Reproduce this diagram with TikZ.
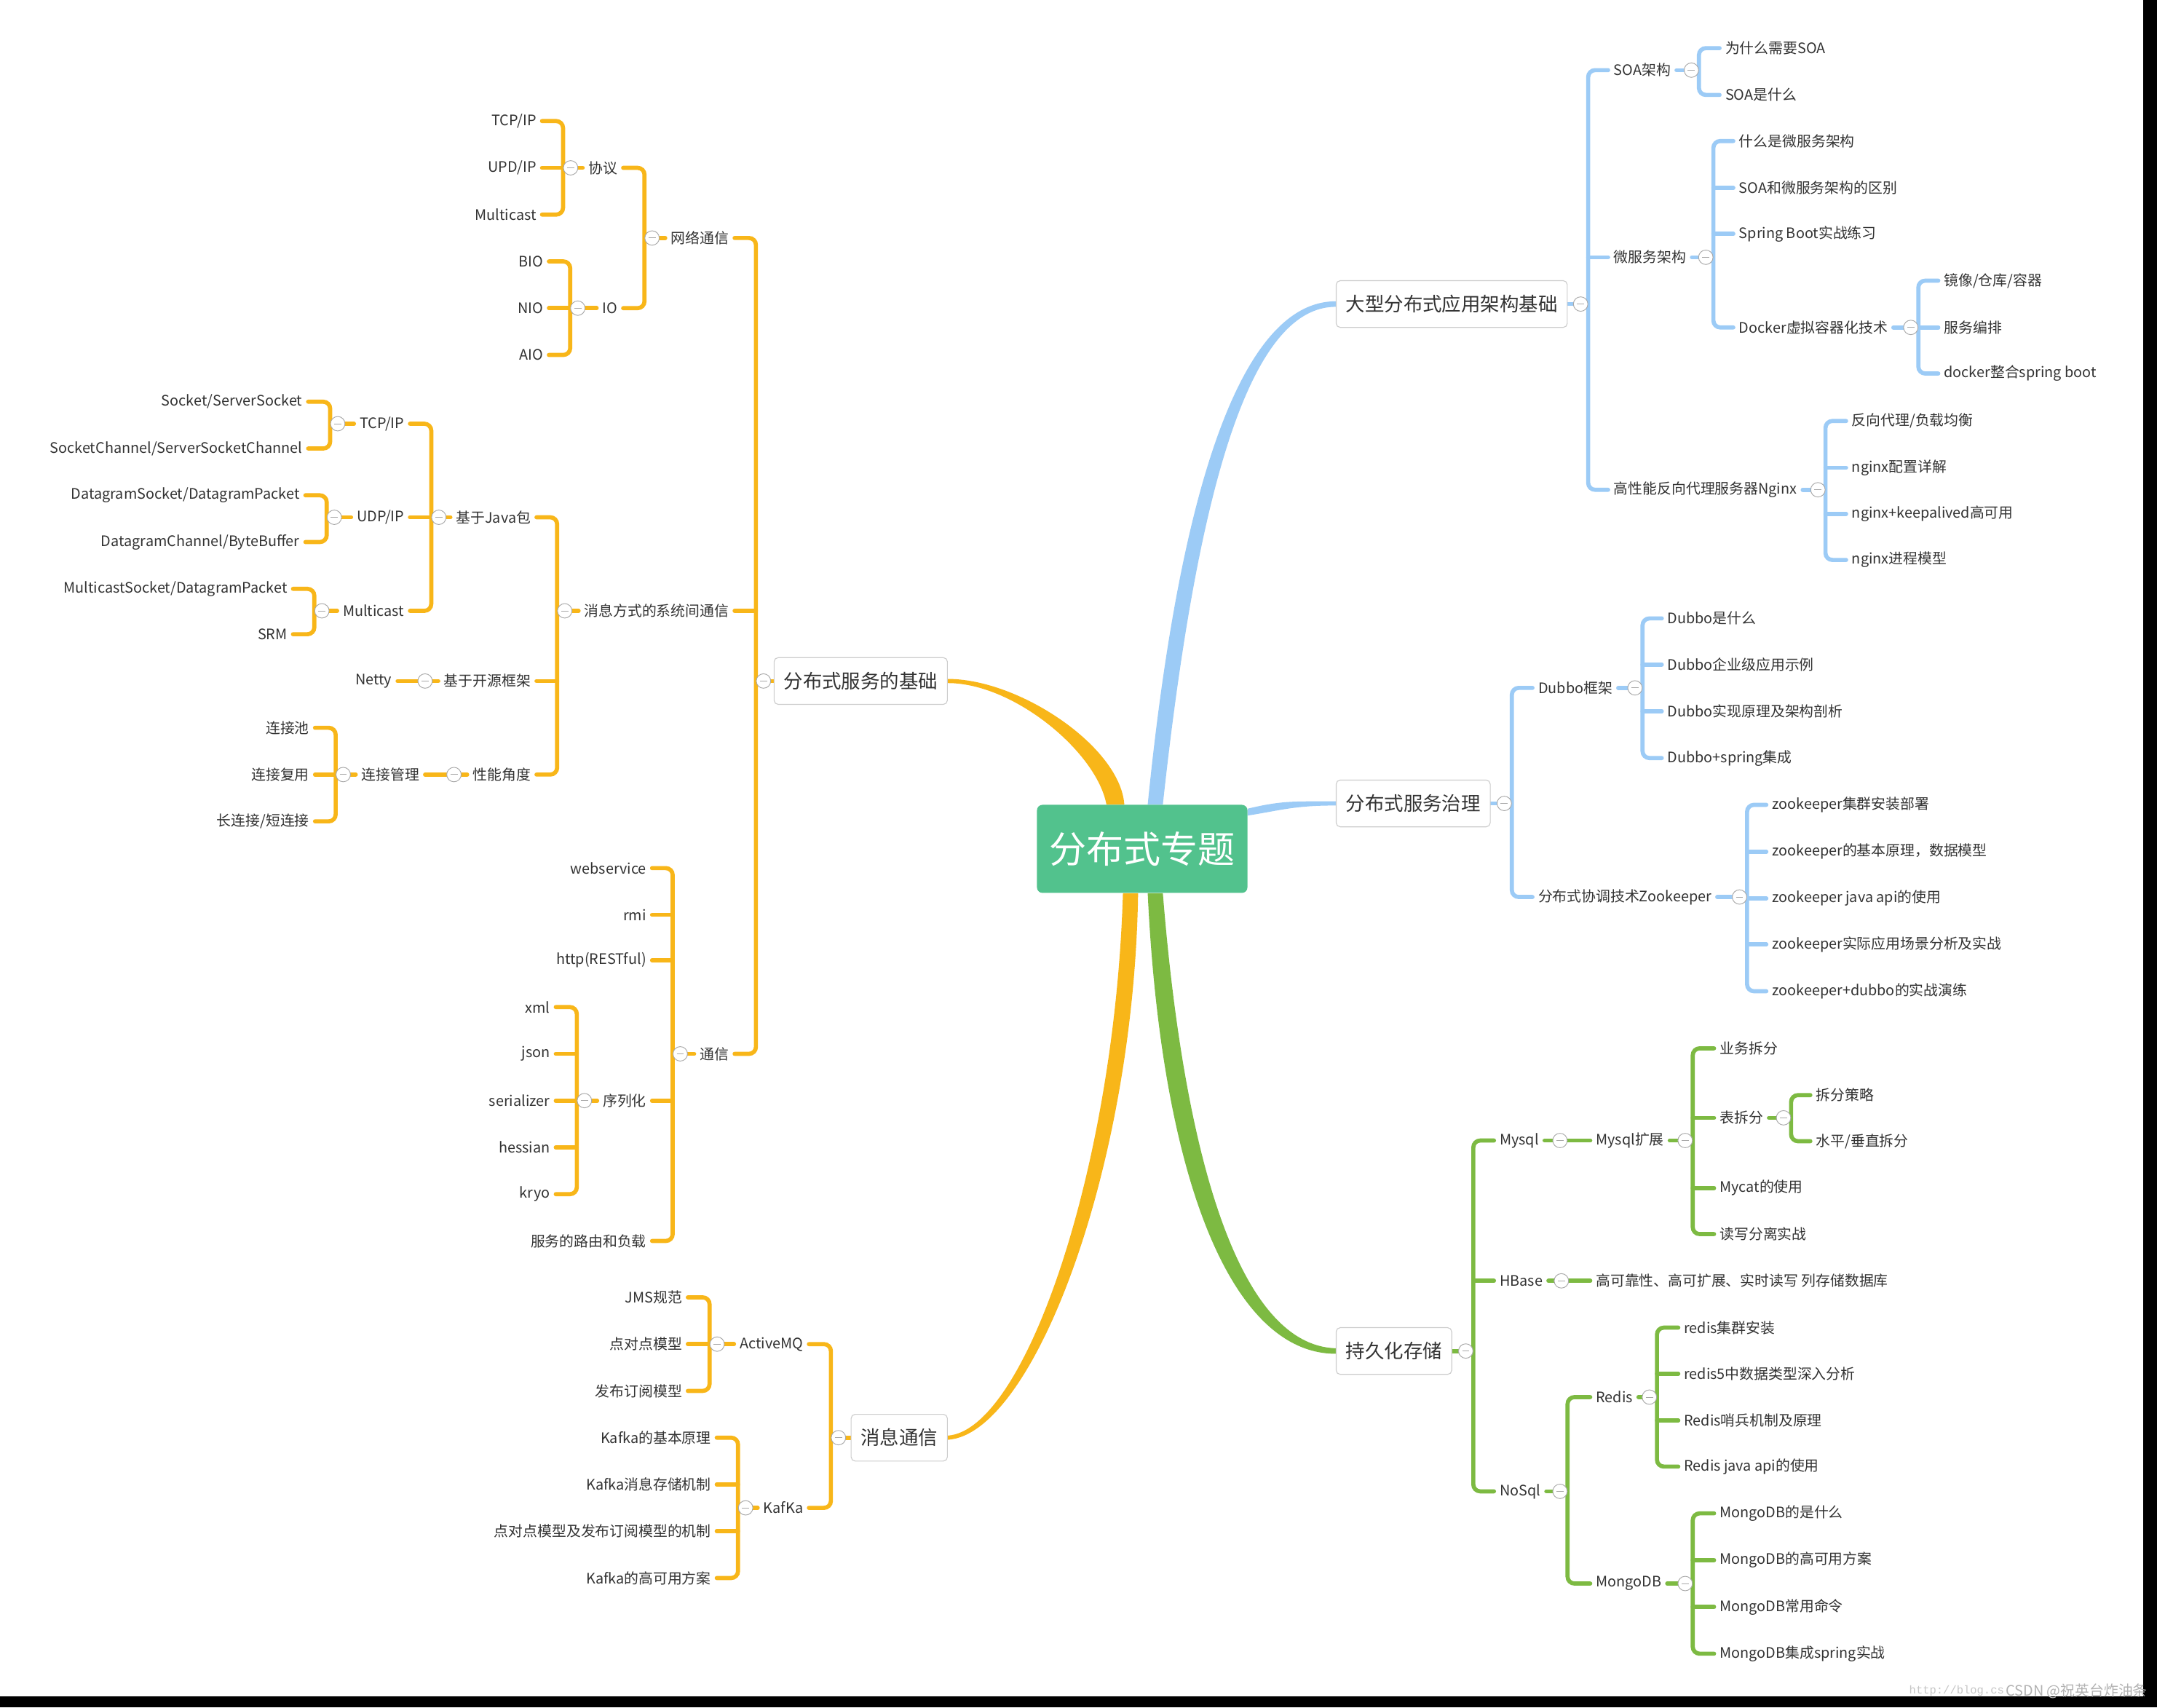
\documentclass[tikz,border=0pt]{standalone}
\usepackage{fontspec}
\setmainfont{Noto Sans CJK SC}
\newfontfamily\urlfont{Liberation Mono}
\usetikzlibrary{positioning,backgrounds}

\definecolor{orng}{HTML}{F8B619}
\definecolor{blu}{HTML}{9CCBF6}
\definecolor{grn}{HTML}{7DBA42}
\definecolor{rootgreen}{HTML}{52C28D}
\definecolor{txt}{HTML}{333333}
\definecolor{ring}{HTML}{A8A8A8}
\definecolor{boxline}{HTML}{CCCCCC}

\tikzset{
	lf/.style={font=\fontsize{10.5}{12}\selectfont, text=txt, inner xsep=4pt, inner ysep=1pt, anchor=east},
	rt/.style={lf, anchor=west},
	topic/.style={draw=boxline, line width=0.6pt, fill=white, rounded corners=3pt, font=\fontsize{14}{16}\selectfont, text=txt, minimum height=34pt, inner xsep=7pt},
	tog/.style={circle, draw=ring, fill=white, line width=0.5pt, minimum size=10.5pt, inner sep=0pt,
		path picture={\draw[ring, line width=0.5pt] ([xshift=-2.6pt]path picture bounding box.center) -- ([xshift=2.6pt]path picture bounding box.center);}},
	obr/.style={draw=orng, line width=3pt, rounded corners=5pt, line cap=round},
	bbr/.style={draw=blu, line width=3pt, rounded corners=5pt, line cap=round},
	gbr/.style={draw=grn, line width=3pt, rounded corners=5pt, line cap=round},
}

\begin{document}
\begin{tikzpicture}[x=1pt,y=-1pt]
		\useasboundingbox (0,0) rectangle (1568,1241);

		% centre and main topics
		\node[fill=rootgreen, text=white, rounded corners=4pt, minimum width=153pt, minimum height=64pt, font=\fontsize{27}{30}\selectfont] (root) at (830.3,617) {分布式专题};
		\node[topic, anchor=east] (base) at (689,495) {分布式服务的基础};
		\node[topic, anchor=east] (msg) at (689,1045) {消息通信};
		\node[topic, anchor=west] (arch) at (971,221) {大型分布式应用架构基础};
		\node[topic, anchor=west] (gov) at (971,584) {分布式服务治理};
		\node[topic, anchor=west] (store) at (971,982) {持久化存储};

		% left: 分布式服务的基础
		\node[lf] (net) at (534,173) {网络通信};
		\node[lf] (sys) at (534,444) {消息方式的系统间通信};
		\node[lf] (comm) at (534,766) {通信};

		\node[lf] (proto) at (453,122) {协议};
		\node[lf] (io) at (453,224) {IO};
		\node[lf] (tcpa) at (394,88) {TCP/IP};
		\node[lf] (upd) at (394,122) {UPD/IP};
		\node[lf] (mca) at (394,156) {Multicast};
		\node[lf] (bio) at (399,190) {BIO};
		\node[lf] (nio) at (399,224) {NIO};
		\node[lf] (aio) at (399,258) {AIO};

		\node[lf] (java) at (390,376) {基于Java包};
		\node[lf] (open) at (390,495) {基于开源框架};
		\node[lf] (perf) at (390,563) {性能角度};
		\node[lf] (tcpb) at (298,308) {TCP/IP};
		\node[lf] (udp) at (298,376) {UDP/IP};
		\node[lf] (mcb) at (298,444) {Multicast};
		\node[lf] (sock) at (224,292) {Socket/ServerSocket};
		\node[lf] (sockch) at (224,326) {SocketChannel/ServerSocketChannel};
		\node[lf] (dgs) at (222,360) {DatagramSocket/DatagramPacket};
		\node[lf] (dgc) at (222,394) {DatagramChannel/ByteBuffer};
		\node[lf] (mcs) at (213,428) {MulticastSocket/DatagramPacket};
		\node[lf] (srm) at (213,461) {SRM};
		\node[lf] (netty) at (289,495) {Netty};
		\node[lf] (conn) at (309,563) {连接管理};
		\node[lf] (pool) at (229,529) {连接池};
		\node[lf] (reuse) at (229,563) {连接复用};
		\node[lf] (keep) at (229,597) {长连接/短连接};

		\node[lf] (ws) at (474,631) {webservice};
		\node[lf] (rmi) at (474,665) {rmi};
		\node[lf] (http) at (474,698) {http(RESTful)};
		\node[lf] (ser) at (474,800) {序列化};
		\node[lf] (route) at (474,902) {服务的路由和负载};
		\node[lf] (xml) at (404,732) {xml};
		\node[lf] (json) at (404,766) {json};
		\node[lf] (serz) at (404,800) {serializer};
		\node[lf] (hes) at (404,834) {hessian};
		\node[lf] (kryo) at (404,868) {kryo};

		% left: 消息通信
		\node[lf] (amq) at (588,977) {ActiveMQ};
		\node[lf] (kafka) at (588,1096) {KafKa};
		\node[lf] (jms) at (500,943) {JMS规范};
		\node[lf] (p2p) at (500,977) {点对点模型};
		\node[lf] (pubsub) at (500,1011) {发布订阅模型};
		\node[lf] (kfa) at (521,1045) {Kafka的基本原理};
		\node[lf] (kfb) at (521,1079) {Kafka消息存储机制};
		\node[lf] (kfc) at (521,1113) {点对点模型及发布订阅模型的机制};
		\node[lf] (kfd) at (521,1147) {Kafka的高可用方案};

		% right: 大型分布式应用架构基础
		\node[rt] (soa) at (1169,51) {SOA架构};
		\node[rt] (micro) at (1169,187) {微服务架构};
		\node[rt] (ngx) at (1169,356) {高性能反向代理服务器Nginx};
		\node[rt] (why) at (1250,35) {为什么需要SOA};
		\node[rt] (what) at (1250,69) {SOA是什么};
		\node[rt] (msa) at (1260,102.5) {什么是微服务架构};
		\node[rt] (msb) at (1260,136.5) {SOA和微服务架构的区别};
		\node[rt] (msc) at (1260,170) {Spring Boot实战练习};
		\node[rt] (dock) at (1260,238) {Docker虚拟容器化技术};
		\node[rt] (img) at (1409,204) {镜像/仓库/容器};
		\node[rt] (orch) at (1409,238) {服务编排};
		\node[rt] (dsb) at (1409,271.5) {docker整合spring boot};
		\node[rt] (nxa) at (1342,306) {反向代理/负载均衡};
		\node[rt] (nxb) at (1342,340) {nginx配置详解};
		\node[rt] (nxc) at (1342,373.5) {nginx+keepalived高可用};
		\node[rt] (nxd) at (1342,407) {nginx进程模型};

		% right: 分布式服务治理
		\node[rt] (dubbo) at (1114,500) {Dubbo框架};
		\node[rt] (zoo) at (1114,652) {分布式协调技术Zookeeper};
		\node[rt] (dba) at (1208,449.5) {Dubbo是什么};
		\node[rt] (dbb) at (1208,483) {Dubbo企业级应用示例};
		\node[rt] (dbc) at (1208,517) {Dubbo实现原理及架构剖析};
		\node[rt] (dbd) at (1208,551) {Dubbo+spring集成};
		\node[rt] (zka) at (1284,585) {zookeeper集群安装部署};
		\node[rt] (zkb) at (1284,619) {zookeeper的基本原理，数据模型};
		\node[rt] (zkc) at (1284,653) {zookeeper java api的使用};
		\node[rt] (zkd) at (1284,686.5) {zookeeper实际应用场景分析及实战};
		\node[rt] (zke) at (1284,720.5) {zookeeper+dubbo的实战演练};

		% right: 持久化存储
		\node[rt] (mysql) at (1086,829) {Mysql};
		\node[rt] (hbase) at (1086,931) {HBase};
		\node[rt] (nosql) at (1086,1084) {NoSql};
		\node[rt] (mx) at (1156,829) {Mysql扩展};
		\node[rt] (bs) at (1246,762) {业务拆分};
		\node[rt] (tab) at (1246,812.5) {表拆分};
		\node[rt] (mycat) at (1246,863.5) {Mycat的使用};
		\node[rt] (rw) at (1246,897) {读写分离实战};
		\node[rt] (strat) at (1316,796) {拆分策略};
		\node[rt] (hv) at (1316,829.5) {水平/垂直拆分};
		\node[rt] (hbd) at (1156,931) {高可靠性、高可扩展、实时读写 列存储数据库};
		\node[rt] (redis) at (1156,1015.5) {Redis};
		\node[rt] (mongo) at (1156,1151) {MongoDB};
		\node[rt] (rda) at (1220,965) {redis集群安装};
		\node[rt] (rdb) at (1220,998.5) {redis5中数据类型深入分析};
		\node[rt] (rdc) at (1220,1032.5) {Redis哨兵机制及原理};
		\node[rt] (rdd) at (1220,1066) {Redis java api的使用};
		\node[rt] (mga) at (1246,1100) {MongoDB的是什么};
		\node[rt] (mgb) at (1246,1134) {MongoDB的高可用方案};
		\node[rt] (mgc) at (1246,1168) {MongoDB常用命令};
		\node[rt] (mgd) at (1246,1202) {MongoDB集成spring实战};

		% collapse toggles
		\node[tog] (tbase) at (555,495) {};
		\node[tog] (tnet) at (474,173) {};
		\node[tog] (tproto) at (414.8,122) {};
		\node[tog] (tio) at (420,224) {};
		\node[tog] (tsys) at (410.5,444) {};
		\node[tog] (tjava) at (319,376) {};
		\node[tog] (ttcp) at (245.5,308) {};
		\node[tog] (tudp) at (243,376) {};
		\node[tog] (tmc) at (234,444) {};
		\node[tog] (topen) at (309,495) {};
		\node[tog] (tperf) at (330,563) {};
		\node[tog] (tconn) at (249.5,563) {};
		\node[tog] (tcomm) at (494.5,766) {};
		\node[tog] (tser) at (424.8,800) {};
		\node[tog] (tmsg) at (609.5,1045) {};
		\node[tog] (tamq) at (521.3,977) {};
		\node[tog] (tkafka) at (542,1096) {};
		\node[tog] (tarch) at (1149,221) {};
		\node[tog] (tsoa) at (1229.5,51) {};
		\node[tog] (tmicro) at (1240,187) {};
		\node[tog] (tdock) at (1389,238) {};
		\node[tog] (tngx) at (1321.5,356) {};
		\node[tog] (tgov) at (1093.5,584) {};
		\node[tog] (tdub) at (1188.5,500) {};
		\node[tog] (tzoo) at (1264.5,652) {};
		\node[tog] (tstore) at (1065.5,982) {};
		\node[tog] (tmysql) at (1134,829) {};
		\node[tog] (tmx) at (1225,829) {};
		\node[tog] (ttab) at (1296.5,812.5) {};
		\node[tog] (thb) at (1135,931) {};
		\node[tog] (tnosql) at (1134,1084) {};
		\node[tog] (tredis) at (1199,1015.5) {};
		\node[tog] (tmongo) at (1225,1151) {};

		% watermark
		\node[font=\urlfont\fontsize{8.2}{10}\selectfont, text=gray!45, inner sep=0pt, anchor=east] (wmurl) at (1457,1229) {http://blog.cs};
		\node[font=\fontsize{10.5}{12}\selectfont, text=gray!60, inner sep=0pt, anchor=west] (wmname) at (1458,1229) {CSDN @祝英台炸油条};

		\begin{scope}[on background layer]
		\fill[white] (0,0) rectangle (1568,1241);
		\fill[black] (0,1233) rectangle (1568,1241);
		\fill[black] (1558,0) rectangle (1568,1241);

		% main branches
		\fill[blu] ([xshift=4pt]root.north) .. controls +(24,-240) and +(-66,0) .. ([yshift=2pt]arch.west) -- ([yshift=-2pt]arch.west) .. controls +(-60,0) and +(26,-240) .. ([xshift=15pt]root.north) -- cycle;
		\fill[blu] ([yshift=-3pt]root.north east) .. controls +(25,-6) and +(-30,0) .. ([yshift=1.5pt]gov.west) -- ([yshift=-1.5pt]gov.west) .. controls +(-30,0) and +(25,-4) .. ([yshift=-8pt]root.north east) -- cycle;
		\fill[orng] ([yshift=1.5pt]base.east) .. controls +(52,0) and +(-3,-42) .. ([xshift=-13pt]root.north) -- ([xshift=-26pt]root.north) .. controls +(-7,-38) and +(48,0) .. ([yshift=-1.5pt]base.east) -- cycle;
		\fill[orng] ([xshift=-3pt]root.south) .. controls +(-3,200) and +(62,-4) .. ([yshift=-1.5pt]msg.east) -- ([yshift=1.5pt]msg.east) .. controls +(56,-4) and +(-6,200) .. ([xshift=-14pt]root.south) -- cycle;
		\fill[grn] ([xshift=4pt]root.south) .. controls +(10,210) and +(-75,0) .. ([yshift=-2pt]store.west) -- ([yshift=2pt]store.west) .. controls +(-68,-2) and +(16,200) .. ([xshift=15pt]root.south) -- cycle;

		% 分布式服务的基础
		\draw[obr] (base.west) -- (tbase.east);
		\draw[obr] (net.east) -| (tbase.west) |- (comm.east);
		\draw[obr] (sys.east) -- (sys.east -| tbase.west);

		\draw[obr] (net.west) -- (tnet.east);
		\draw[obr] (proto.east) -| (tnet.west) |- (io.east);
		\draw[obr] (proto.west) -- (tproto.east);
		\draw[obr] (tcpa.east) -| (tproto.west) |- (mca.east);
		\draw[obr] (upd.east) -- (upd.east -| tproto.west);
		\draw[obr] (io.west) -- (tio.east);
		\draw[obr] (bio.east) -| (tio.west) |- (aio.east);
		\draw[obr] (nio.east) -- (nio.east -| tio.west);

		\draw[obr] (sys.west) -- (tsys.east);
		\draw[obr] (java.east) -| (tsys.west) |- (perf.east);
		\draw[obr] (open.east) -- (open.east -| tsys.west);
		\draw[obr] (java.west) -- (tjava.east);
		\draw[obr] (tcpb.east) -| (tjava.west) |- (mcb.east);
		\draw[obr] (udp.east) -- (udp.east -| tjava.west);
		\draw[obr] (tcpb.west) -- (ttcp.east);
		\draw[obr] (sock.east) -| (ttcp.west) |- (sockch.east);
		\draw[obr] (udp.west) -- (tudp.east);
		\draw[obr] (dgs.east) -| (tudp.west) |- (dgc.east);
		\draw[obr] (mcb.west) -- (tmc.east);
		\draw[obr] (mcs.east) -| (tmc.west) |- (srm.east);
		\draw[obr] (open.west) -- (topen.east);
		\draw[obr] (netty.east) -- (topen.west);
		\draw[obr] (perf.west) -- (tperf.east);
		\draw[obr] (conn.east) -- (tperf.west);
		\draw[obr] (conn.west) -- (tconn.east);
		\draw[obr] (pool.east) -| (tconn.west) |- (keep.east);
		\draw[obr] (reuse.east) -- (reuse.east -| tconn.west);

		\draw[obr] (comm.west) -- (tcomm.east);
		\draw[obr] (ws.east) -| (tcomm.west) |- (route.east);
		\draw[obr] (rmi.east) -- (rmi.east -| tcomm.west);
		\draw[obr] (http.east) -- (http.east -| tcomm.west);
		\draw[obr] (ser.east) -- (ser.east -| tcomm.west);
		\draw[obr] (ser.west) -- (tser.east);
		\draw[obr] (xml.east) -| (tser.west) |- (kryo.east);
		\draw[obr] (json.east) -- (json.east -| tser.west);
		\draw[obr] (serz.east) -- (serz.east -| tser.west);
		\draw[obr] (hes.east) -- (hes.east -| tser.west);

		% 消息通信
		\draw[obr] (msg.west) -- (tmsg.east);
		\draw[obr] (amq.east) -| (tmsg.west) |- (kafka.east);
		\draw[obr] (amq.west) -- (tamq.east);
		\draw[obr] (jms.east) -| (tamq.west) |- (pubsub.east);
		\draw[obr] (p2p.east) -- (p2p.east -| tamq.west);
		\draw[obr] (kafka.west) -- (tkafka.east);
		\draw[obr] (kfa.east) -| (tkafka.west) |- (kfd.east);
		\draw[obr] (kfb.east) -- (kfb.east -| tkafka.west);
		\draw[obr] (kfc.east) -- (kfc.east -| tkafka.west);

		% 大型分布式应用架构基础
		\draw[bbr] (arch.east) -- (tarch.west);
		\draw[bbr] (soa.west) -| (tarch.east) |- (ngx.west);
		\draw[bbr] (micro.west) -- (micro.west -| tarch.east);
		\draw[bbr] (soa.east) -- (tsoa.west);
		\draw[bbr] (why.west) -| (tsoa.east) |- (what.west);
		\draw[bbr] (micro.east) -- (tmicro.west);
		\draw[bbr] (msa.west) -| (tmicro.east) |- (dock.west);
		\draw[bbr] (msb.west) -- (msb.west -| tmicro.east);
		\draw[bbr] (msc.west) -- (msc.west -| tmicro.east);
		\draw[bbr] (dock.east) -- (tdock.west);
		\draw[bbr] (img.west) -| (tdock.east) |- (dsb.west);
		\draw[bbr] (orch.west) -- (orch.west -| tdock.east);
		\draw[bbr] (ngx.east) -- (tngx.west);
		\draw[bbr] (nxa.west) -| (tngx.east) |- (nxd.west);
		\draw[bbr] (nxb.west) -- (nxb.west -| tngx.east);
		\draw[bbr] (nxc.west) -- (nxc.west -| tngx.east);

		% 分布式服务治理
		\draw[bbr] (gov.east) -- (tgov.west);
		\draw[bbr] (dubbo.west) -| (tgov.east) |- (zoo.west);
		\draw[bbr] (dubbo.east) -- (tdub.west);
		\draw[bbr] (dba.west) -| (tdub.east) |- (dbd.west);
		\draw[bbr] (dbb.west) -- (dbb.west -| tdub.east);
		\draw[bbr] (dbc.west) -- (dbc.west -| tdub.east);
		\draw[bbr] (zoo.east) -- (tzoo.west);
		\draw[bbr] (zka.west) -| (tzoo.east) |- (zke.west);
		\draw[bbr] (zkb.west) -- (zkb.west -| tzoo.east);
		\draw[bbr] (zkc.west) -- (zkc.west -| tzoo.east);
		\draw[bbr] (zkd.west) -- (zkd.west -| tzoo.east);

		% 持久化存储
		\draw[gbr] (store.east) -- (tstore.west);
		\draw[gbr] (mysql.west) -| (tstore.east) |- (nosql.west);
		\draw[gbr] (hbase.west) -- (hbase.west -| tstore.east);
		\draw[gbr] (mysql.east) -- (tmysql.west);
		\draw[gbr] (tmysql.east) -- (mx.west);
		\draw[gbr] (mx.east) -- (tmx.west);
		\draw[gbr] (bs.west) -| (tmx.east) |- (rw.west);
		\draw[gbr] (tab.west) -- (tab.west -| tmx.east);
		\draw[gbr] (mycat.west) -- (mycat.west -| tmx.east);
		\draw[gbr] (tab.east) -- (ttab.west);
		\draw[gbr] (strat.west) -| (ttab.east) |- (hv.west);
		\draw[gbr] (hbase.east) -- (thb.west);
		\draw[gbr] (thb.east) -- (hbd.west);
		\draw[gbr] (nosql.east) -- (tnosql.west);
		\draw[gbr] (redis.west) -| (tnosql.east) |- (mongo.west);
		\draw[gbr] (redis.east) -- (tredis.west);
		\draw[gbr] (rda.west) -| (tredis.east) |- (rdd.west);
		\draw[gbr] (rdb.west) -- (rdb.west -| tredis.east);
		\draw[gbr] (rdc.west) -- (rdc.west -| tredis.east);
		\draw[gbr] (mongo.east) -- (tmongo.west);
		\draw[gbr] (mga.west) -| (tmongo.east) |- (mgd.west);
		\draw[gbr] (mgb.west) -- (mgb.west -| tmongo.east);
		\draw[gbr] (mgc.west) -- (mgc.west -| tmongo.east);
		\end{scope}
	\end{tikzpicture}
\end{document}
